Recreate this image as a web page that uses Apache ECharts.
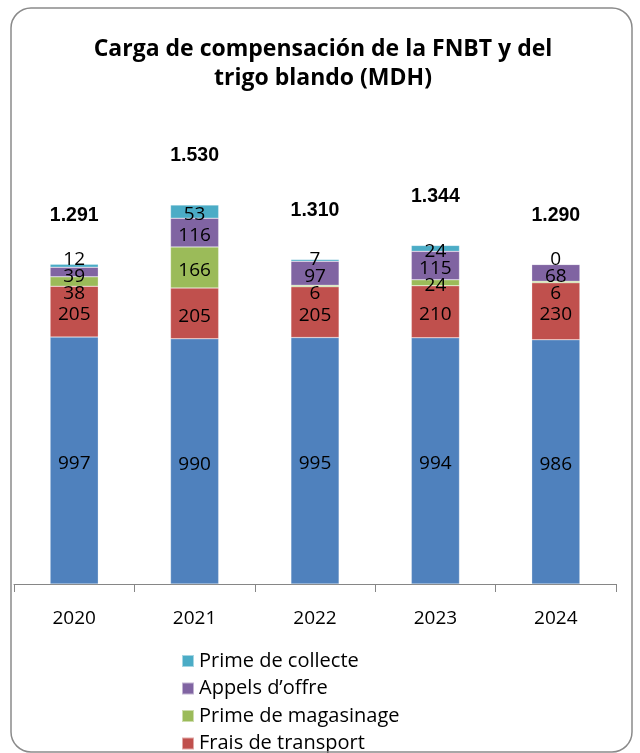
<!DOCTYPE html>
<html>
<head>
<meta charset="utf-8">
<script src="https://cdn.jsdelivr.net/npm/echarts@6/dist/echarts.min.js"></script>
<style>html,body{margin:0;padding:0;background:#fff;}#c{width:640px;height:753px;}</style>
</head>
<body>
<div id="c"></div>
<script>
const categories = ['2020', '2021', '2022', '2023', '2024'];
const subvention = [997, 990, 995, 994, 986];
const fraisTransport = [205, 205, 205, 210, 230];
const primeMagasinage = [38, 166, 6, 24, 6];
const appelsOffre = [39, 116, 97, 115, 68];
const primeCollecte = [12, 53, 7, 24, 0];
const totalLabels = ['1.291', '1.530', '1.310', '1.344', '1.290'];

const FONT = '"Open Sans", "Noto Sans", sans-serif';
const chart = echarts.init(document.getElementById('c'), null, {renderer: 'canvas'});
const stacks = [subvention, fraisTransport, primeMagasinage, appelsOffre, primeCollecte];
let shifts = stacks.map(() => categories.map(() => 0));

function seg(name, data, color) {
  return {
    name: name, type: 'bar', stack: 'total', data: data, barWidth: '40%',
    itemStyle: {color: color, borderColor: 'rgba(255,255,255,0.5)', borderWidth: 0.5},
    label: {show: true, position: 'inside', color: '#000', fontFamily: FONT, fontSize: 19},
    labelLayout: p => ({dy: (shifts[p.seriesIndex] && shifts[p.seriesIndex][p.dataIndex]) || 0}),
    emphasis: {disabled: true}
  };
}
const stackTops = categories.map((_, i) => stacks.reduce((a, s) => a + s[i], 0));

const option = {
  animation: false,
  title: {
    text: 'Carga de compensación de la FNBT y del\ntrigo blando (MDH)',
    left: 318, textAlign: 'center', top: 30,
    textStyle: {fontFamily: FONT, fontWeight: 'bold', fontSize: 23, lineHeight: 29, color: '#000'}
  },
  graphic: [{
    type: 'rect', shape: {x: 11, y: 8, width: 621, height: 744, r: 20},
    style: {fill: 'none', stroke: '#8a8a8a', lineWidth: 1.5}, silent: true, z: 100
  }],
  legend: {
    orient: 'horizontal', left: 176, top: 646, width: 240, itemWidth: 12, itemHeight: 12, itemGap: 7.5,
    icon: 'rect', align: 'left',
    textStyle: {fontFamily: FONT, fontSize: 20, lineHeight: 18, color: '#000'},
    data: ['Prime de collecte', "Appels d’offre", 'Prime de magasinage', 'Frais de transport']
  },
  grid: {left: 14, right: 24, top: 88.6, bottom: 169, containLabel: false},
  xAxis: {
    type: 'category', data: categories,
    axisLine: {lineStyle: {color: '#868686', width: 1}},
    axisTick: {show: true, length: 8, lineStyle: {color: '#868686'}},
    axisLabel: {fontFamily: FONT, fontSize: 19, color: '#000', margin: 25}
  },
  yAxis: {type: 'value', min: 0, max: 2000, show: false, splitLine: {show: false}},
  series: [
    seg('Subvention', subvention, '#4F81BD'),
    seg('Frais de transport', fraisTransport, '#C0504D'),
    seg('Prime de magasinage', primeMagasinage, '#9BBB59'),
    seg("Appels d’offre", appelsOffre, '#8064A2'),
    seg('Prime de collecte', primeCollecte, '#4BACC6'),
    {
      name: 'Total', type: 'scatter', data: stackTops, symbolSize: 2,
      itemStyle: {color: 'rgba(0,0,0,0)', opacity: 1}, silent: true, z: 10,
      emphasis: {disabled: true},
      label: {
        show: true, position: 'top', distance: 38,
        formatter: p => totalLabels[p.dataIndex],
        fontFamily: '"Liberation Sans", Arial, sans-serif', fontWeight: 'bold', fontSize: 19.5, color: '#000', opacity: 1
      }
    }
  ]
};
chart.setOption(option);

// spread overlapping segment labels apart (Excel-like), using the chart's own scale
const GAP = 17;
categories.forEach((c, i) => {
  let base = 0;
  const centers = stacks.map(s => {
    const y0 = chart.convertToPixel({gridIndex: 0}, [i, base])[1];
    base += s[i];
    const y1 = chart.convertToPixel({gridIndex: 0}, [i, base])[1];
    return (y0 + y1) / 2;
  });
  const pos = centers.slice();
  for (let it = 0; it < 200; it++) {
    for (let k = 0; k < pos.length - 1; k++) {
      const d = pos[k] - pos[k + 1];
      if (d < GAP) {
        const m = (GAP - d) / 2;
        pos[k] += m; pos[k + 1] -= m;
      }
    }
  }
  pos.forEach((p, k) => { shifts[k][i] = p - centers[k] + 3; });
});
chart.setOption(option, true);
</script>
</body>
</html>
